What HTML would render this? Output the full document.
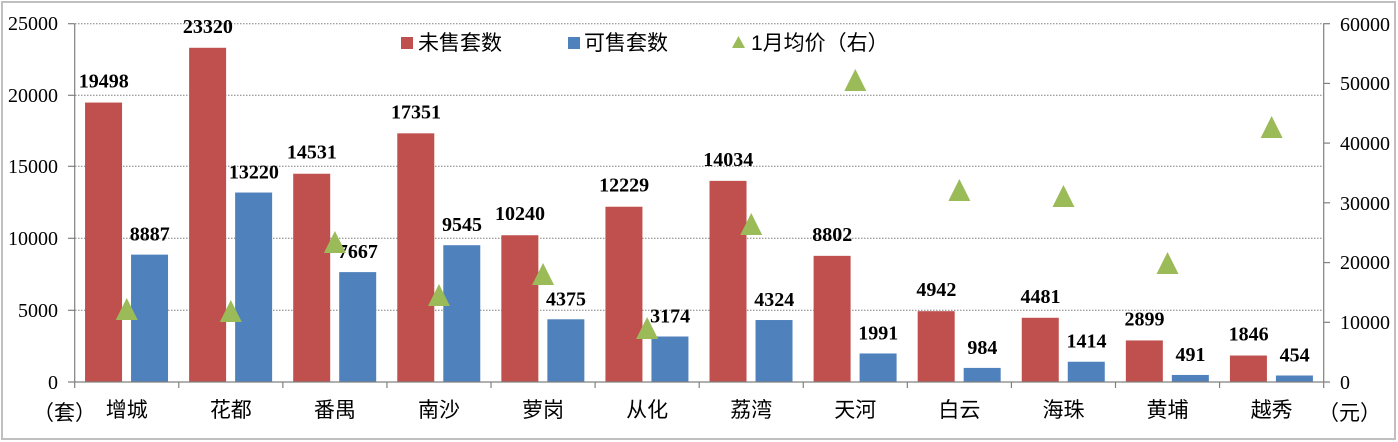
<!DOCTYPE html>
<html><head><meta charset="utf-8"><style>
html,body{margin:0;padding:0;background:#fff}
svg{display:block}
text{font-family:"Liberation Serif","Noto Serif CJK SC","Noto Sans CJK SC",serif}
.cjk{font-family:"Liberation Sans","Noto Sans CJK SC",sans-serif}
</style></head><body>
<svg width="1398" height="442" viewBox="0 0 1398 442" xmlns="http://www.w3.org/2000/svg">
<rect x="2" y="2" width="1393" height="437" fill="#fff" stroke="#bfbfbf" stroke-width="2"/>
<g stroke="#808080" stroke-width="1" stroke-dasharray="1.5,1.5">
<line x1="75" y1="23.7" x2="1324" y2="23.7"/>
<line x1="75" y1="95.3" x2="1324" y2="95.3"/>
<line x1="75" y1="166.3" x2="1324" y2="166.3"/>
<line x1="75" y1="238.3" x2="1324" y2="238.3"/>
<line x1="75" y1="310.3" x2="1324" y2="310.3"/>
</g>
<g id="bars"></g>
<g stroke="#808080" stroke-width="1.2" fill="none">
<line x1="74.7" y1="23.7" x2="74.7" y2="382"/>
<line x1="1323.7" y1="23.7" x2="1323.7" y2="382"/>
<line x1="68" y1="382" x2="1330" y2="382"/>
<line x1="68" y1="23.7" x2="74.7" y2="23.7"/><line x1="68" y1="95.3" x2="74.7" y2="95.3"/><line x1="68" y1="166.3" x2="74.7" y2="166.3"/><line x1="68" y1="238.3" x2="74.7" y2="238.3"/><line x1="68" y1="310.3" x2="74.7" y2="310.3"/>
<line x1="1323.7" y1="23.7" x2="1330" y2="23.7"/><line x1="1323.7" y1="83.4" x2="1330" y2="83.4"/><line x1="1323.7" y1="143.1" x2="1330" y2="143.1"/><line x1="1323.7" y1="202.8" x2="1330" y2="202.8"/><line x1="1323.7" y1="262.6" x2="1330" y2="262.6"/><line x1="1323.7" y1="322.3" x2="1330" y2="322.3"/>
</g>
<g id="ticks" stroke="#808080" stroke-width="1.2"></g>
<g font-size="20" fill="#000" text-anchor="end">
<text x="58" y="30">25000</text><text x="58" y="102">20000</text><text x="58" y="173">15000</text><text x="58" y="245">10000</text><text x="58" y="317">5000</text><text x="58" y="389">0</text>
</g>
<g font-size="20" fill="#000" text-anchor="start">
<text x="1340" y="31">60000</text><text x="1340" y="90">50000</text><text x="1340" y="150">40000</text><text x="1340" y="210">30000</text><text x="1340" y="269">20000</text><text x="1340" y="329">10000</text><text x="1340" y="389">0</text>
</g>
<g font-size="21" class="cjk">
<rect x="401" y="37" width="12" height="12" fill="#c0504d"/><text x="418" y="50" class="cjk">未售套数</text>
<rect x="568" y="37" width="12" height="12" fill="#4f81bd"/><text x="584" y="50" class="cjk">可售套数</text>
<polygon points="732,48 745,48 738.5,36" fill="#9bbb59"/><text x="751" y="50" class="cjk">1月均价（右）</text>
</g>
<text x="33" y="420" font-size="21" class="cjk">（套）</text>
<text x="1318" y="420" font-size="21" class="cjk">（元）</text>
<g id="labels"></g>
</svg>
<script>
var names=["增城","花都","番禺","南沙","萝岗","从化","荔湾","天河","白云","海珠","黄埔","越秀"];
var red=[19498,23320,14531,17351,10240,12229,14034,8802,4942,4481,2899,1846];
var blue=[8887,13220,7667,9545,4375,3174,4324,1991,984,1414,491,454];
var tri=[309,311,242,295,274,328,224,80,190,196,263,127];
var ns="http://www.w3.org/2000/svg";
function el(t,a,p,txt){var e=document.createElementNS(ns,t);for(var k in a)e.setAttribute(k,a[k]);if(txt!==undefined)e.textContent=txt;document.getElementById(p).appendChild(e);return e;}
function Y(v){return 382-v*358.3/25000;}
var w=104.08;
for(var i=0;i<12;i++){
 var cx=74.7+w*(i+0.5);
 var ry=Y(red[i]),by=Y(blue[i]);
 el("rect",{x:cx-41.7,y:ry,width:37,height:382-ry,fill:"#c0504d"},"bars");
 el("rect",{x:cx+4.3,y:by,width:37,height:382-by,fill:"#4f81bd"},"bars");
 el("line",{x1:74.7+w*(i+1),y1:382,x2:74.7+w*(i+1),y2:388},"ticks");
 if(i==0) el("line",{x1:74.7,y1:382,x2:74.7,y2:388},"ticks");
 el("text",{x:cx-23,y:ry-15,"font-size":"20","font-weight":"bold","text-anchor":"middle"},"labels",String(red[i]));
 el("text",{x:cx+23,y:by-14,"font-size":"20","font-weight":"bold","text-anchor":"middle"},"labels",String(blue[i]));
 var t=tri[i];
 el("polygon",{points:(cx-11)+","+(t+11)+" "+(cx+11)+","+(t+11)+" "+cx+","+(t-11),fill:"#9bbb59"},"labels");
 el("text",{x:cx,y:417,"font-size":"21","text-anchor":"middle","class":"cjk"},"labels",names[i]);
}
</script>
</body></html>
